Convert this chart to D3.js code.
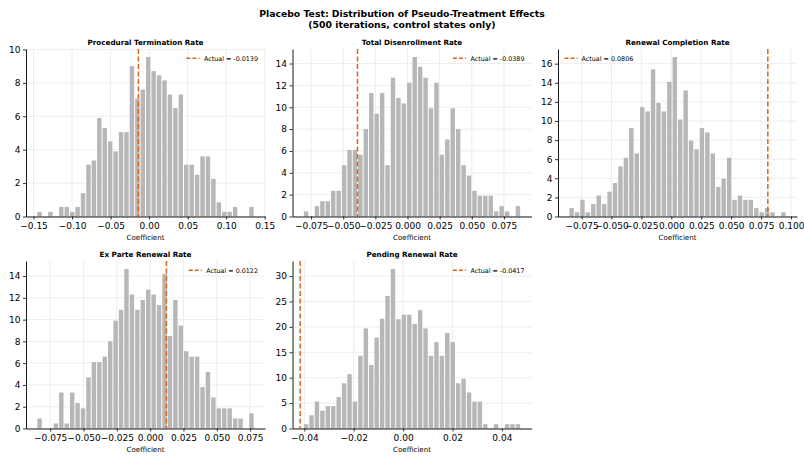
<!DOCTYPE html>
<html>
<head>
<meta charset="utf-8">
<script src="https://cdn.jsdelivr.net/npm/d3@7"></script>
<style>
  body { margin: 0; background: #fff; }
  svg { font-family: "DejaVu Sans", sans-serif; }
</style>
</head>
<body>
<div id="chart"></div>
<script>
// data (density per bin, 40 bins per panel)
const panelTitles = [
  "Procedural Termination Rate",
  "Total Disenrollment Rate",
  "Renewal Completion Rate",
  "Ex Parte Renewal Rate",
  "Pending Renewal Rate"
];
const actualValues = [-0.0139, -0.0389, 0.0806, 0.0122, -0.0417];
const actualLabels = ["-0.0139", "-0.0389", "0.0806", "0.0122", "-0.0417"];

// lowest and highest bin edge of each histogram
const binRanges = [
  [-0.1457, 0.1363],
  [-0.0810, 0.0880],
  [-0.0856, 0.0959],
  [-0.0850, 0.0780],
  [-0.0404, 0.0476]
];

const densityProcedural = [0.28,0,0.28,0,0.57,0.57,0.28,0.57,1.4,3.1,3.35,5.9,5.3,4.5,3.9,5.05,5.05,9.0,7.05,7.6,
  9.55,8.7,8.45,8.15,7.3,6.5,7.3,3.1,3.1,2.5,3.6,3.6,2.25,0.85,0.28,0.28,0.57,0,0,0.57];
const densityDisenroll = [0.47,0,0.95,1.4,1.4,2.35,2.35,4.7,6.1,6.1,5.65,8.0,11.3,9.4,11.3,4.7,12.7,10.85,10.35,12.25,
  14.6,13.7,12.7,9.9,12.25,5.65,7.05,9.9,8.0,4.7,3.75,2.35,1.9,1.9,1.9,0.47,0.95,0.47,0,0.95];
const densityCompletion = [0.88,0.44,1.75,0.44,1.3,2.2,1.3,2.6,3.5,5.25,6.15,9.25,6.6,11.45,11.0,15.4,11.9,11.0,14.1,16.7,
  10.15,13.2,7.95,7.05,9.25,8.8,6.6,3.1,3.95,6.15,1.75,2.2,1.75,1.75,0.88,0.44,0.88,0.44,0,0.44];
const densityExParte = [0.92,0,0,0.46,3.3,0.46,3.3,2.35,1.85,4.7,6.1,6.1,6.6,8.0,9.9,10.9,14.65,12.3,10.9,11.8,
  12.75,12.3,11.35,14.2,8.5,11.8,9.45,7.1,6.6,6.6,3.8,5.2,2.85,1.85,1.85,1.85,0.92,0.92,0,1.4];
const densityPending = [0.85,2.6,5.3,3.5,4.4,4.4,6.2,8.9,10.7,5.3,14.3,19.7,12.5,17.9,21.6,26.1,31.4,21.5,22.4,22.4,
  20.6,23.3,19.7,14.3,17.0,14.3,18.8,17.0,8.9,9.8,7.1,5.3,5.3,0.85,0,0.85,0,0.85,0.85,0.85];

const densities = [densityProcedural, densityDisenroll, densityCompletion, densityExParte, densityPending];

// x tick values of each panel
const xTicks = [
  [-0.15, -0.10, -0.05, 0, 0.05, 0.10, 0.15],
  [-0.075, -0.05, -0.025, 0, 0.025, 0.05, 0.075],
  [-0.075, -0.05, -0.025, 0, 0.025, 0.05, 0.075, 0.1],
  [-0.075, -0.05, -0.025, 0, 0.025, 0.05, 0.075],
  [-0.04, -0.02, 0, 0.02, 0.04]
];
const xTickFormats = [".2f", ".3f", ".3f", ".3f", ".2f"];
const legendLeft = [false, false, true, false, false];

// layout
const width = 804, height = 458;
const colLeft = [26, 292.5, 558];
const rowTop = [49, 261];
const pw = 239, ph = 167.5;
const barColor = "#b7b7b7";
const lineColor = "#dd6512";
const gridColor = "#e9e9e9";

const svg = d3.select("#chart").append("svg")
  .attr("width", width)
  .attr("height", height);

svg.append("text")
  .attr("x", width / 2).attr("y", 17.3)
  .attr("text-anchor", "middle")
  .attr("font-size", 9.3).attr("font-weight", "bold")
  .text("Placebo Test: Distribution of Pseudo-Treatment Effects");
svg.append("text")
  .attr("x", width / 2).attr("y", 28)
  .attr("text-anchor", "middle")
  .attr("font-size", 9.3).attr("font-weight", "bold")
  .text("(500 iterations, control states only)");

densities.forEach(function(values, i) {
  const col = i % 3, row = Math.floor(i / 3);
  const g = svg.append("g")
    .attr("transform", `translate(${colLeft[col]},${rowTop[row]})`);

  const [lo, hi] = binRanges[i];
  const nb = values.length;
  const bw = (hi - lo) / nb;
  const bins = values.map((v, k) => ({ x0: lo + k * bw, x1: lo + (k + 1) * bw, v: v }));

  // matplotlib style auto limits: 5% margins, widened if the marker line falls outside
  let dmin = lo, dmax = hi;
  let pad = 0.05 * (dmax - dmin);
  if (actualValues[i] < dmin - pad || actualValues[i] > dmax + pad) {
    dmin = Math.min(dmin, actualValues[i]);
    dmax = Math.max(dmax, actualValues[i]);
    pad = 0.05 * (dmax - dmin);
  }
  const xScale = d3.scaleLinear().domain([dmin - pad, dmax + pad]).range([0, pw]);
  const yScale = d3.scaleLinear().domain([0, d3.max(values) * 1.05]).range([ph, 0]);
  const yTicks = yScale.ticks(6);

  // grid
  g.append("g")
    .selectAll("line.gx")
    .data(xTicks[i])
    .join("line")
    .attr("x1", d => xScale(d)).attr("x2", d => xScale(d))
    .attr("y1", 0).attr("y2", ph)
    .attr("stroke", gridColor).attr("stroke-width", 0.8);
  g.append("g")
    .selectAll("line.gy")
    .data(yTicks)
    .join("line")
    .attr("x1", 0).attr("x2", pw)
    .attr("y1", d => yScale(d)).attr("y2", d => yScale(d))
    .attr("stroke", gridColor).attr("stroke-width", 0.8);

  // bars
  g.append("g")
    .selectAll("rect")
    .data(bins)
    .join("rect")
    .attr("x", d => xScale(d.x0) + 0.5)
    .attr("width", d => Math.max(0, xScale(d.x1) - xScale(d.x0) - 1))
    .attr("y", d => yScale(d.v))
    .attr("height", d => ph - yScale(d.v))
    .attr("fill", barColor);

  // actual value line
  g.append("line")
    .attr("x1", xScale(actualValues[i])).attr("x2", xScale(actualValues[i]))
    .attr("y1", 0).attr("y2", ph)
    .attr("stroke", lineColor).attr("stroke-width", 1.5)
    .attr("stroke-dasharray", "5,2.5");

  // axes
  const xAxis = d3.axisBottom(xScale)
    .tickValues(xTicks[i])
    .tickFormat(d3.format(xTickFormats[i]))
    .tickSize(3).tickSizeOuter(0).tickPadding(3.3);
  const bottomAxis = g.append("g")
    .attr("transform", `translate(0,${ph})`)
    .call(xAxis);
  const yAxis = d3.axisLeft(yScale)
    .tickValues(yTicks)
    .tickSize(3).tickSizeOuter(0).tickPadding(2.5);
  const leftAxis = g.append("g").call(yAxis);
  [bottomAxis, leftAxis].forEach(function(a) {
    a.attr("font-family", "DejaVu Sans").attr("font-size", 9);
    a.select(".domain").attr("stroke", "#000").attr("stroke-width", 0.9);
    a.selectAll(".tick line").attr("stroke", "#000").attr("stroke-width", 0.8);
    a.selectAll(".tick text").attr("fill", "#000");
  });

  // titles
  g.append("text")
    .attr("x", pw / 2).attr("y", -3.8)
    .attr("text-anchor", "middle")
    .attr("font-size", 7.2).attr("font-weight", "bold")
    .text(panelTitles[i]);
  g.append("text")
    .attr("x", pw / 2).attr("y", ph + 23)
    .attr("text-anchor", "middle")
    .attr("font-size", 7.1)
    .text("Coefficient");

  // legend
  const ly = 9.3;
  const lg = g.append("g");
  const label = "Actual = " + actualLabels[i];
  if (legendLeft[i]) {
    lg.append("line")
      .attr("x1", 6.5).attr("x2", 19.5).attr("y1", ly).attr("y2", ly)
      .attr("stroke", lineColor).attr("stroke-width", 1.5)
      .attr("stroke-dasharray", "4,2");
    lg.append("text")
      .attr("x", 23.5).attr("y", ly).attr("dy", "0.35em")
      .attr("font-size", 6.4)
      .text(label);
  } else {
    const t = lg.append("text")
      .attr("x", pw - 7).attr("y", ly).attr("dy", "0.35em")
      .attr("text-anchor", "end")
      .attr("font-size", 6.4)
      .text(label);
    const tw = t.node().getComputedTextLength();
    const tx = pw - 7 - tw;
    lg.append("line")
      .attr("x1", tx - 17.5).attr("x2", tx - 4.5).attr("y1", ly).attr("y2", ly)
      .attr("stroke", lineColor).attr("stroke-width", 1.5)
      .attr("stroke-dasharray", "4,2");
  }
});
</script>
</body>
</html>
